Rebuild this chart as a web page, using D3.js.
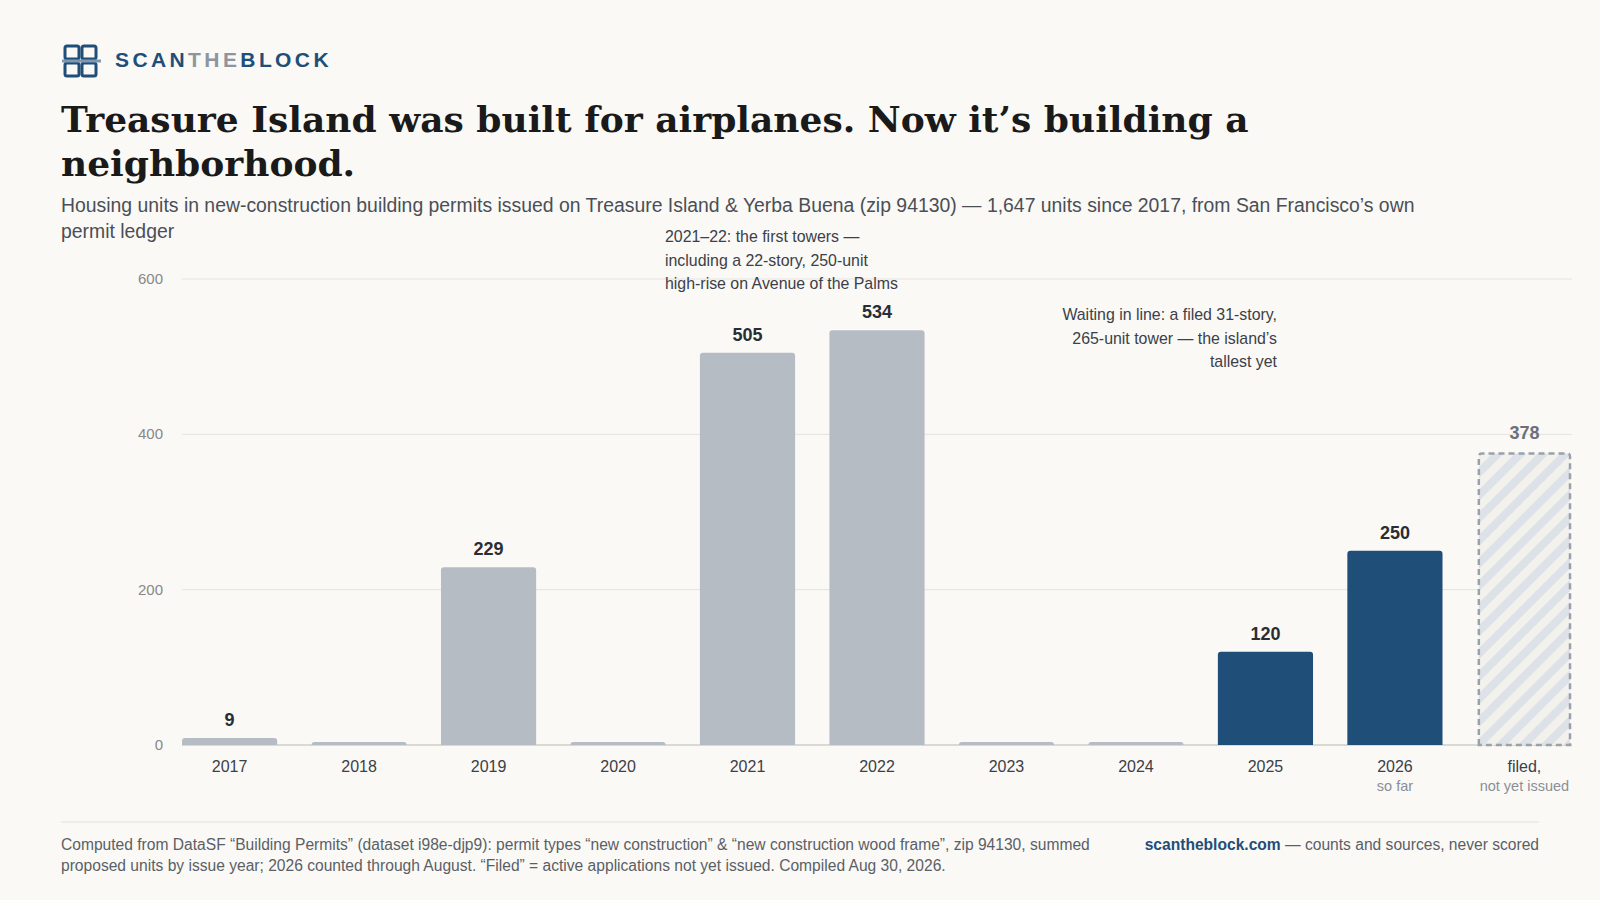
<!DOCTYPE html>
<html><head><meta charset="utf-8">
<script src="https://cdn.jsdelivr.net/npm/d3@7"></script>
<style>
body{margin:0;background:#faf9f6;font-family:"Liberation Sans",Arial,sans-serif;}
</style></head><body>
<svg id="c" width="1600" height="900"></svg>
<script>
const categories=["2017","2018","2019","2020","2021","2022","2023","2024","2025","2026","filed,"];
const sublabels=["","","","","","","","","","so far","not yet issued"];
const values=[9,0,229,0,505,534,0,0,120,250,378];
const kinds=["past","past","past","past","past","past","past","past","recent","recent","filed"];
const yTicks=[0,200,400,600];

const svg=d3.select("#c");
const defs=svg.append("defs");
const pat=defs.append("pattern").attr("id","hatch").attr("patternUnits","userSpaceOnUse")
 .attr("width",16).attr("height",16).attr("patternTransform","rotate(45)");
pat.append("rect").attr("width",16).attr("height",16).attr("fill","#f2f1ec");
pat.append("rect").attr("width",8).attr("height",16).attr("fill","#dde1e8");

const lg=svg.append("g").attr("transform","translate(64,45)");
[[0,0],[17,0],[0,17],[17,17]].forEach(([x,y])=>lg.append("rect").attr("x",x+1).attr("y",y+1).attr("width",14).attr("height",13).attr("rx",2).attr("fill","none").attr("stroke","#1f4e79").attr("stroke-width",3));
lg.append("line").attr("x1",-2).attr("x2",37).attr("y1",16).attr("y2",16).attr("stroke","#7f97b0").attr("stroke-width",3);
const lt=svg.append("text").attr("x",115).attr("y",67).attr("font-size",21).attr("font-weight",700).attr("letter-spacing",3.4);
lt.append("tspan").attr("fill","#1f4e79").text("SCAN");
lt.append("tspan").attr("fill","#8e959e").text("THE");
lt.append("tspan").attr("fill","#1f4e79").text("BLOCK");

svg.append("text").attr("x",61).attr("y",132).attr("font-family","'DejaVu Serif',serif").attr("font-weight",700).attr("font-size",36).attr("fill","#1a1a1a").text("Treasure Island was built for airplanes. Now it’s building a");
svg.append("text").attr("x",61).attr("y",176).attr("font-family","'DejaVu Serif',serif").attr("font-weight",700).attr("font-size",36).attr("fill","#1a1a1a").text("neighborhood.");
svg.append("text").attr("x",61).attr("y",212).attr("font-size",19.4).attr("fill","#4a4f57").text("Housing units in new-construction building permits issued on Treasure Island & Yerba Buena (zip 94130) — 1,647 units since 2017, from San Francisco’s own");
svg.append("text").attr("x",61).attr("y",238).attr("font-size",19.4).attr("fill","#4a4f57").text("permit ledger");

const x=d3.scaleBand().domain(categories).range([182,1572]).paddingInner(0.265).paddingOuter(0);
const y=d3.scaleLinear().domain([0,600]).range([745,279]);

const g=svg.append("g");
g.selectAll(".gl").data(yTicks).join("line").attr("x1",182).attr("x2",1572)
 .attr("y1",d=>y(d)).attr("y2",d=>y(d)).attr("stroke",(d)=>d===0?"#cfcfc8":"#e4e3dc").attr("stroke-width",d=>d===0?1.5:1);
g.selectAll(".yl").data(yTicks).join("text").attr("x",163).attr("y",d=>y(d)+5).attr("text-anchor","end")
 .attr("font-size",15).attr("fill","#888").text(d=>d);

const fill={past:"#b6bcc4",recent:"#1f4e79",filed:"url(#hatch)"};
values.forEach((v,i)=>{
 const c=categories[i],filed=kinds[i]==="filed";
 const inset=filed?2:0;
 const bx=x(c)+inset,bw=x.bandwidth()-2*inset;
 const top=Math.min(y(v),y(0)-3)+inset;
 const h=y(0)-top;
 const r=Math.min(3,h);
 g.append("path").attr("d",`M${bx},${y(0)}V${top+r}Q${bx},${top} ${bx+r},${top}H${bx+bw-r}Q${bx+bw},${top} ${bx+bw},${top+r}V${y(0)}Z`)
  .attr("fill",fill[kinds[i]])
  .attr("stroke",filed?"#9aa1ab":"none").attr("stroke-width",2.5).attr("stroke-dasharray",filed?"6,4":null);
 if(v>0) g.append("text").attr("x",x(c)+x.bandwidth()/2).attr("y",y(v)-12).attr("text-anchor","middle").attr("font-size",18).attr("font-weight",700)
  .attr("fill",filed?"#6b7079":"#2a2d33").text(v);
 g.append("text").attr("x",x(c)+x.bandwidth()/2).attr("y",772).attr("text-anchor","middle").attr("font-size",16).attr("fill","#3c4048").text(c);
 if(sublabels[i]) g.append("text").attr("x",x(c)+x.bandwidth()/2).attr("y",791).attr("text-anchor","middle").attr("font-size",14.5).attr("fill","#8a8f96").text(sublabels[i]);
});

const ann1=["2021–22: the first towers —","including a 22-story, 250-unit","high-rise on Avenue of the Palms"];
ann1.forEach((t,i)=>svg.append("text").attr("x",665).attr("y",242+i*23.5).attr("font-size",15.9).attr("fill","#3c4048").text(t));
const ann2=["Waiting in line: a filed 31-story,","265-unit tower — the island’s","tallest yet"];
ann2.forEach((t,i)=>svg.append("text").attr("x",1277).attr("y",320+i*23.5).attr("text-anchor","end").attr("font-size",15.9).attr("fill","#3c4048").text(t));

svg.append("line").attr("x1",61).attr("x2",1539).attr("y1",822).attr("y2",822).attr("stroke","#e2e1da");
svg.append("text").attr("x",61).attr("y",850).attr("font-size",15.6).attr("fill","#5a5f66").text("Computed from DataSF “Building Permits” (dataset i98e-djp9): permit types “new construction” & “new construction wood frame”, zip 94130, summed");
svg.append("text").attr("x",61).attr("y",871).attr("font-size",15.6).attr("fill","#5a5f66").text("proposed units by issue year; 2026 counted through August. “Filed” = active applications not yet issued. Compiled Aug 30, 2026.");
const ft=svg.append("text").attr("x",1539).attr("y",850).attr("text-anchor","end").attr("font-size",15.6).attr("fill","#5a5f66");
ft.append("tspan").attr("font-weight",700).attr("fill","#1f4e79").text("scantheblock.com");
ft.append("tspan").text(" — counts and sources, never scored");
</script></body></html>
